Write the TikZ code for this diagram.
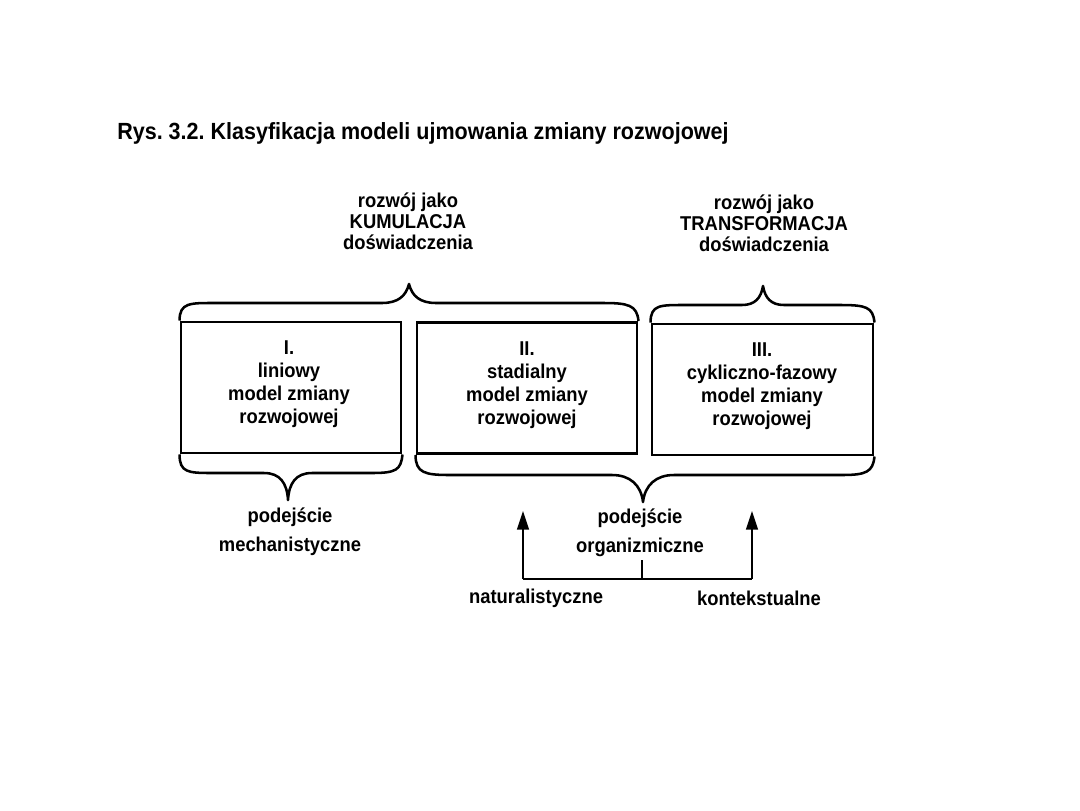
\documentclass[tikz,border=0pt]{standalone}
\usepackage{fontspec}
\setmainfont{Liberation Sans}
\newfontfamily\lab{Liberation Sans}[FakeStretch=0.92]
\usetikzlibrary{arrows.meta}
\frenchspacing
\tikzset{
  box/.style={draw, line width=2.2pt, minimum width=220*0.75pt, minimum height=131*0.75pt, inner sep=0pt},
  brace/.style={line width=1.9pt, line join=round},
  txt/.style={inner sep=0pt, align=center, font=\lab\bfseries\fontsize{15}{17.25}\selectfont},
  toptxt/.style={inner sep=0pt, align=center, font=\lab\bfseries\fontsize{15}{15.75}\selectfont},
  lowtxt/.style={inner sep=0pt, align=center, font=\lab\bfseries\fontsize{15}{21.75}\selectfont},
  conn/.style={line width=1.1pt},
  arr/.style={conn, -{Triangle[length=14pt, width=9pt]}}
}
\begin{document}
\begin{tikzpicture}[x=0.75pt, y=-0.75pt]
\useasboundingbox (0,0) rectangle (1080,810);

% title
\node[anchor=base west, inner sep=0pt, font=\lab\bfseries\fontsize{17.55}{20}\selectfont] (title) at (117,139)
  {\frenchspacing Rys. 3.2. Klasyfikacja modeli ujmowania zmiany rozwojowej};

% upper labels
\node[toptxt] (kum) at (408,221) {rozwój jako\\KUMULACJA\\doświadczenia};
\node[toptxt] (tra) at (764,223) {rozwój jako\\TRANSFORMACJA\\doświadczenia};

% boxes
\node[box] (b1) at (291,387.5) {};
\node[box] (b2) at (527,388) {};
\node[box, minimum width=221*0.75pt] (b3) at (762.5,389.5) {};

\node[txt] (t1) at (289,384) {I.\\liniowy\\model zmiany\\rozwojowej};
\node[txt] (t2) at (527,385) {II.\\stadialny\\model zmiany\\rozwojowej};
\node[txt] (t3) at (762,386) {III.\\cykliczno-fazowy\\model zmiany\\rozwojowej};

% top braces
\draw[brace] (b1.north west) .. controls +(0,-18) and (190,303) .. (215,303) -- (382,303)
  .. controls (398,303) and (406,296) .. (409,284)
  .. controls (412,296) and (420,303) .. (436,303) -- (603,303)
  .. controls (628,303) and (637,305) .. (b2.north east);
\draw[brace] (b3.north west) .. controls +(0,-18) and (660,305) .. (686,305) -- (742,305)
  .. controls (755,305) and (761,298) .. (763,286)
  .. controls (765,298) and (771,305) .. (784,305) -- (840,305)
  .. controls (866,305) and (873,307) .. (b3.north east);

% bottom braces
\draw[brace] (b1.south west) .. controls +(0,18) and (188,473) .. (212,473) -- (264,473)
  .. controls (280,473) and (287,483) .. (288,500)
  .. controls (289,483) and (296,473) .. (312,473) -- (372,473)
  .. controls (396,473) and (401,470) .. (b1.south east);
\draw[brace] (b2.south west) .. controls +(0,18) and (425,475) .. (450,475) -- (612,475)
  .. controls (630,475) and (641,485) .. (643,502)
  .. controls (645,485) and (656,475) .. (674,475) -- (842,475)
  .. controls (866,475) and (873,472) .. (b3.south east);

% lower labels
\node[lowtxt] (mech) at (290,532) {podejście\\mechanistyczne};
\node[lowtxt] (org) at (640,533) {podejście\\organizmiczne};
\node[txt] (nat) at (536,598) {naturalistyczne};
\node[txt] (kon) at (759,598) {kontekstualne};

% connectors
\coordinate (j) at (642,579);
\coordinate (jl) at (523,579);
\coordinate (jr) at (752,579);
\coordinate (al) at (523,511);
\coordinate (ar) at (752,511);
\draw[conn] (org.south -| j) ++(0,3) -- (j);
\draw[conn] (jl) -- (jr);
\draw[arr] (jl) -- (al);
\draw[arr] (jr) -- (ar);
\end{tikzpicture}
\end{document}
